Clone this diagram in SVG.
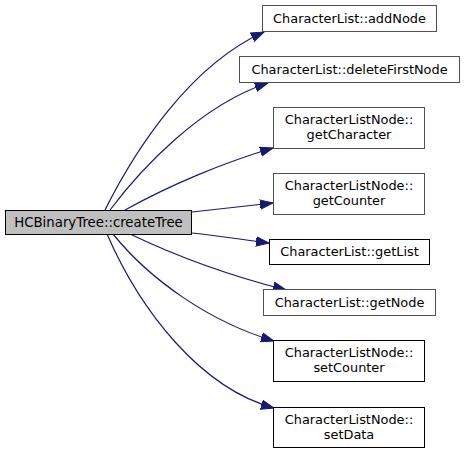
<svg xmlns="http://www.w3.org/2000/svg" width="464" height="453" viewBox="0 0 464 453">
<style>
text{font-family:"DejaVu Sans",sans-serif;font-size:12.9px;fill:#000;text-anchor:middle}
.n{fill:#fff;stroke:#000;stroke-width:1}
.g{stroke:#505050}
.main{fill:#bfbfbf;stroke:#000}
.big{font-size:13.3px}
.e{fill:none;stroke:#191970;stroke-width:1.2;marker-end:url(#ah)}
</style>
<defs>
<marker id="ah" markerUnits="userSpaceOnUse" markerWidth="15" markerHeight="12" refX="13" refY="5" orient="auto" viewBox="0 0 15 10">
<polygon points="0,0.3 13,5 0,9.7" fill="#191970" stroke="#191970"/>
</marker>
</defs>
<g id="edges">
<path class="e" d="M105,210 C135,150 190,65 264,32"/>
<path class="e" d="M110,210 C140,170 200,105 268,83"/>
<path class="e" d="M125,210 C170,185 225,162 273,148"/>
<path class="e" d="M192,212 C220,209 248,206 273,203"/>
<path class="e" d="M192,233 C220,236 245,240 269,243"/>
<path class="e" d="M130,234 C180,258 235,277 286,290"/>
<path class="e" d="M113,234 C150,280 210,322 274,341"/>
<path class="e" d="M107,234 C140,310 200,388 274,408"/>
</g>
<g id="node-main"><rect class="main" x="5.5" y="210.5" width="186" height="24"/><text class="big" x="98.5" y="227">HCBinaryTree::createTree</text></g>
<g id="node-addNode"><rect class="n g" x="262.5" y="5.5" width="174" height="26"/><text x="349.5" y="23">CharacterList::addNode</text></g>
<g id="node-deleteFirstNode"><rect class="n g" x="239.5" y="56.5" width="220" height="26"/><text x="349.5" y="74">CharacterList::deleteFirstNode</text></g>
<g id="node-getCharacter"><rect class="n g" x="273.5" y="107.5" width="151" height="41"/><text x="349" y="124">CharacterListNode::</text><text x="349" y="139">getCharacter</text></g>
<g id="node-getCounter"><rect class="n g" x="273.5" y="173.5" width="151" height="41"/><text x="349" y="190">CharacterListNode::</text><text x="349" y="205">getCounter</text></g>
<g id="node-getList"><rect class="n" x="269.5" y="239.5" width="160" height="25"/><text x="349.5" y="256">CharacterList::getList</text></g>
<g id="node-getNode"><rect class="n g" x="263.5" y="289.5" width="172" height="26"/><text x="349.5" y="307">CharacterList::getNode</text></g>
<g id="node-setCounter"><rect class="n" x="273.5" y="340.5" width="151" height="41"/><text x="349" y="357">CharacterListNode::</text><text x="349" y="372">setCounter</text></g>
<g id="node-setData"><rect class="n" x="273.5" y="407.5" width="151" height="40"/><text x="349" y="424">CharacterListNode::</text><text x="349" y="439">setData</text></g>
</svg>
